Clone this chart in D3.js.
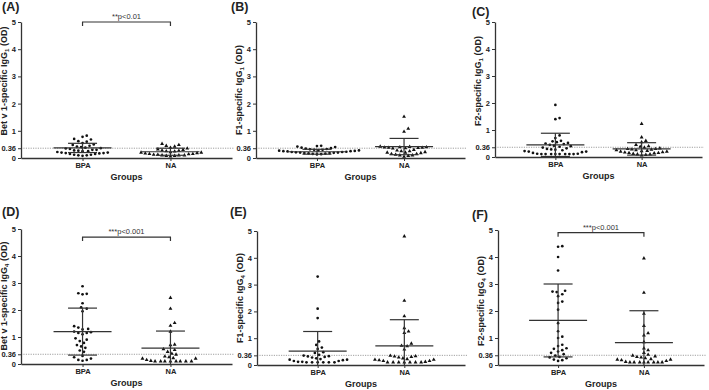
<!DOCTYPE html>
<html>
<head>
<meta charset="utf-8">
<script src="https://cdn.jsdelivr.net/npm/d3@7"></script>
<style>
body { margin: 0; background: #fff; }
text { font-family: "Liberation Sans", Arial, sans-serif; }
</style>
</head>
<body>
<svg id="chart" width="709" height="390"></svg>
<script>
// ---- data ----
var groups = ["BPA", "NA"];
var yTicks = [0, 0.36, 1, 2, 3, 4, 5];
var cutoff = 0.36;
var panelNames = ["(A)", "(B)", "(C)", "(D)", "(E)", "(F)"];
var antigens = ["Bet v 1", "F1", "F2", "Bet v 1", "F1", "F2"];
var subclass = ["1", "1", "1", "4", "4", "4"];

var bpaA = [0.82, 0.78, 0.7, 0.68, 0.62, 0.6, 0.55, 0.5, 0.48, 0.45, 0.42, 0.4, 0.38, 0.36, 0.35, 0.33, 0.3, 0.3, 0.28, 0.27, 0.25, 0.25, 0.22, 0.2, 0.2, 0.18, 0.18, 0.17, 0.15, 0.15, 0.12, 0.12, 0.1, 0.1, 0.08];
var naA = [0.52, 0.48, 0.45, 0.42, 0.38, 0.35, 0.32, 0.3, 0.28, 0.27, 0.25, 0.24, 0.22, 0.2, 0.2, 0.18, 0.17, 0.15, 0.15, 0.14, 0.12, 0.12, 0.1, 0.1, 0.1, 0.08, 0.08, 0.06];
var bpaB = [0.45, 0.44, 0.42, 0.4, 0.38, 0.36, 0.35, 0.33, 0.32, 0.3, 0.3, 0.28, 0.28, 0.27, 0.26, 0.25, 0.25, 0.24, 0.23, 0.22, 0.22, 0.21, 0.2, 0.2, 0.19, 0.18, 0.18, 0.17, 0.16, 0.15, 0.14, 0.13];
var naB = [1.52, 1.08, 0.97, 0.42, 0.41, 0.4, 0.4, 0.39, 0.38, 0.38, 0.37, 0.36, 0.35, 0.3, 0.28, 0.25, 0.25, 0.22, 0.2, 0.2, 0.18, 0.15, 0.15, 0.12, 0.1, 0.1, 0.08, 0.05];
var bpaC = [1.93, 1.44, 1.4, 0.8, 0.7, 0.6, 0.58, 0.55, 0.52, 0.5, 0.48, 0.45, 0.42, 0.4, 0.38, 0.35, 0.32, 0.3, 0.28, 0.27, 0.25, 0.22, 0.2, 0.2, 0.18, 0.15, 0.12, 0.12, 0.11, 0.11, 0.11, 0.11, 0.11, 0.11, 0.11, 0.11];
var naC = [1.23, 0.73, 0.6, 0.55, 0.45, 0.4, 0.38, 0.35, 0.32, 0.3, 0.3, 0.28, 0.27, 0.25, 0.25, 0.23, 0.22, 0.2, 0.2, 0.18, 0.17, 0.15, 0.15, 0.14, 0.12, 0.1, 0.1, 0.08, 0.06];
var bpaD = [2.88, 2.62, 2.6, 2.58, 2.25, 2.1, 2.05, 1.95, 1.4, 1.35, 1.3, 1.28, 1.2, 1.18, 1.15, 1.15, 1.1, 0.95, 0.9, 0.85, 0.78, 0.7, 0.65, 0.6, 0.5, 0.45, 0.3, 0.25, 0.2, 0.15, 0.15, 0.12];
var naD = [2.45, 2.05, 1.52, 1.42, 1.2, 0.72, 0.7, 0.55, 0.52, 0.45, 0.38, 0.35, 0.28, 0.25, 0.22, 0.2, 0.2, 0.15, 0.12, 0.1, 0.1, 0.1, 0.1, 0.1, 0.1, 0.1, 0.1];
var bpaE = [3.3, 2.1, 1.75, 0.88, 0.75, 0.65, 0.6, 0.48, 0.45, 0.38, 0.35, 0.33, 0.32, 0.3, 0.28, 0.25, 0.22, 0.2, 0.2, 0.18, 0.15, 0.15, 0.12, 0.12, 0.1, 0.1, 0.1, 0.1, 0.1, 0.1];
var naE = [4.8, 2.4, 1.82, 1.38, 1.25, 1.2, 0.8, 0.72, 0.7, 0.58, 0.35, 0.33, 0.32, 0.3, 0.28, 0.25, 0.22, 0.2, 0.2, 0.18, 0.15, 0.15, 0.12, 0.1, 0.1, 0.1, 0.1, 0.1, 0.1, 0.1];
var bpaF = [4.4, 4.38, 4.0, 3.5, 2.75, 2.72, 2.7, 2.62, 2.55, 2.35, 2.3, 2.05, 1.55, 1.25, 1.05, 1.0, 0.75, 0.7, 0.62, 0.6, 0.55, 0.5, 0.45, 0.4, 0.35, 0.3, 0.28, 0.25, 0.2, 0.18, 0.15];
var naF = [3.95, 2.68, 1.9, 1.45, 1.18, 1.1, 0.85, 0.62, 0.55, 0.45, 0.38, 0.35, 0.32, 0.3, 0.28, 0.25, 0.22, 0.2, 0.2, 0.18, 0.15, 0.12, 0.1, 0.1, 0.1, 0.1, 0.1, 0.1, 0.1, 0.1];

var points = [[bpaA, naA], [bpaB, naB], [bpaC, naC], [bpaD, naD], [bpaE, naE], [bpaF, naF]];
// mean and SD bars as drawn in the figure
var means = [[0.37, 0.23], [0.23, 0.42], [0.45, 0.3], [1.2, 0.59], [0.52, 0.71], [1.65, 0.83]];
var sds = [[0.17, 0.13], [0.09, 0.3], [0.43, 0.23], [0.87, 0.63], [0.73, 0.98], [1.35, 1.18]];
// significance brackets: panel index, bracket height (OD), label
var sigPanel = [0, 3, 5];
var sigHeight = [5.0, 4.7, 4.9];
var sigText = ["**p<0.01", "***p<0.001", "***p<0.001"];

// ---- layout ----
var layout = [
    {lx: 2, ly: 11, x0: 21, x1: 232, top: 22, bottom: 158, lc: 81},
    {lx: 231, ly: 11, x0: 256, x1: 465, top: 22, bottom: 158, lc: 90},
    {lx: 472, ly: 16, x0: 495, x1: 702, top: 22, bottom: 157, lc: 81},
    {lx: 2, ly: 216, x0: 21, x1: 232, top: 229, bottom: 364, lc: 296},
    {lx: 230, ly: 216, x0: 257, x1: 465, top: 231, bottom: 365, lc: 298},
    {lx: 472, ly: 219, x0: 498, x1: 704, top: 230, bottom: 365, lc: 301}
];

var ink = "#222";
var svg = d3.select("#chart");

// column-scatter layout: nudge points sideways until they don't overlap
function swarm(values, y, cx, dist) {
    var placed = [];
    var step = dist / 3;
    values.slice().sort(function(a, b) { return a - b; }).forEach(function(v) {
        var py = y(v);
        for (var k = 0; k < 300; k++) {
            var off = k === 0 ? 0 : (k % 2 ? 1 : -1) * Math.ceil(k / 2) * step;
            var px = cx + off;
            var ok = placed.every(function(q) {
                return (q.x - px) * (q.x - px) + (q.y - py) * (q.y - py) >= dist * dist;
            });
            if (ok) { placed.push({x: px, y: py, v: v}); break; }
        }
    });
    return placed;
}

layout.forEach(function(L, i) {
    var g = svg.append("g");
    var x = d3.scalePoint().domain(groups).range([L.x0, L.x1]).padding(0.7);
    var y = d3.scaleLinear().domain([0, 5]).range([L.bottom, L.top]);

    // cutoff line
    g.append("line")
        .attr("x1", L.x0).attr("x2", L.x1 + 2)
        .attr("y1", y(cutoff)).attr("y2", y(cutoff))
        .attr("stroke", "#888").attr("stroke-width", 0.8)
        .attr("stroke-dasharray", "1.2,1.2");

    // axes
    var yAxis = g.append("g")
        .attr("transform", `translate(${L.x0},0)`)
        .call(d3.axisLeft(y).tickValues(yTicks).tickSize(3).tickSizeOuter(0).tickPadding(2)
            .tickFormat(function(d) { return d === cutoff ? "0.36" : d3.format("d")(d); }));
    var xAxis = g.append("g")
        .attr("transform", `translate(0,${L.bottom})`)
        .call(d3.axisBottom(x).tickSize(3).tickSizeOuter(0).tickPadding(2));
    [yAxis, xAxis].forEach(function(a) {
        a.select(".domain").attr("stroke", "#333").attr("stroke-width", 1.3);
        a.selectAll(".tick line").attr("stroke", "#333").attr("stroke-width", 1);
        a.selectAll(".tick text").attr("fill", ink).attr("font-size", 7.5)
            .attr("font-weight", "bold").attr("font-family", "Liberation Sans, Arial, sans-serif");
    });

    // points
    groups.forEach(function(gr, j) {
        var pts = swarm(points[i][j], y, x(gr), 4.2);
        if (j === 0) {
            g.append("g").selectAll("circle").data(pts).join("circle")
                .attr("cx", function(d) { return d.x; })
                .attr("cy", function(d) { return d.y; })
                .attr("r", 1.35).attr("fill", "#111");
        } else {
            g.append("g").selectAll("path").data(pts).join("path")
                .attr("transform", function(d) { return `translate(${d.x},${d.y})`; })
                .attr("d", d3.symbol(d3.symbolTriangle, 6.5))
                .attr("fill", "#111");
        }
        // mean +/- SD
        var m = means[i][j], s = sds[i][j];
        var cx = x(gr);
        var lo = y(Math.max(0, m - s)), hi = y(m + s);
        var bars = g.append("g").attr("stroke", "#333").attr("stroke-width", 1.2);
        bars.append("line").attr("x1", cx - 29).attr("x2", cx + 29).attr("y1", y(m)).attr("y2", y(m));
        bars.append("line").attr("x1", cx).attr("x2", cx).attr("y1", lo).attr("y2", hi);
        bars.append("line").attr("x1", cx - 14.5).attr("x2", cx + 14.5).attr("y1", hi).attr("y2", hi);
        if (m - s > 0) {
            bars.append("line").attr("x1", cx - 14.5).attr("x2", cx + 14.5).attr("y1", lo).attr("y2", lo);
        }
    });

    // axis titles
    var yl = g.append("text")
        .attr("transform", `translate(${L.x0 - 14},${L.lc}) rotate(-90)`)
        .attr("text-anchor", "middle")
        .attr("font-size", 9).attr("font-weight", "bold").attr("fill", ink);
    yl.append("tspan").text(antigens[i] + "-specific IgG");
    yl.append("tspan").attr("font-size", 6).attr("dy", 2).text(subclass[i]);
    yl.append("tspan").attr("dy", -2).text(" (OD)");

    g.append("text")
        .attr("x", (L.x0 + L.x1) / 2).attr("y", L.bottom + 22)
        .attr("text-anchor", "middle")
        .attr("font-size", 9).attr("font-weight", "bold").attr("fill", ink)
        .text("Groups");

    g.append("text")
        .attr("x", L.lx).attr("y", L.ly)
        .attr("font-size", 12.5).attr("font-weight", "bold").attr("fill", ink)
        .text(panelNames[i]);

    // significance bracket
    var si = sigPanel.indexOf(i);
    if (si >= 0) {
        var by = y(sigHeight[si]);
        var bx1 = x(groups[0]), bx2 = x(groups[1]);
        g.append("path")
            .attr("d", d3.line()([[bx1, by + 4], [bx1, by], [bx2, by], [bx2, by + 4]]))
            .attr("fill", "none").attr("stroke", "#333").attr("stroke-width", 1.2);
        g.append("text")
            .attr("x", (bx1 + bx2) / 2).attr("y", by - 3)
            .attr("text-anchor", "middle")
            .attr("font-size", 7.5).attr("fill", "#333")
            .text(sigText[si]);
    }
});
</script>
</body>
</html>
